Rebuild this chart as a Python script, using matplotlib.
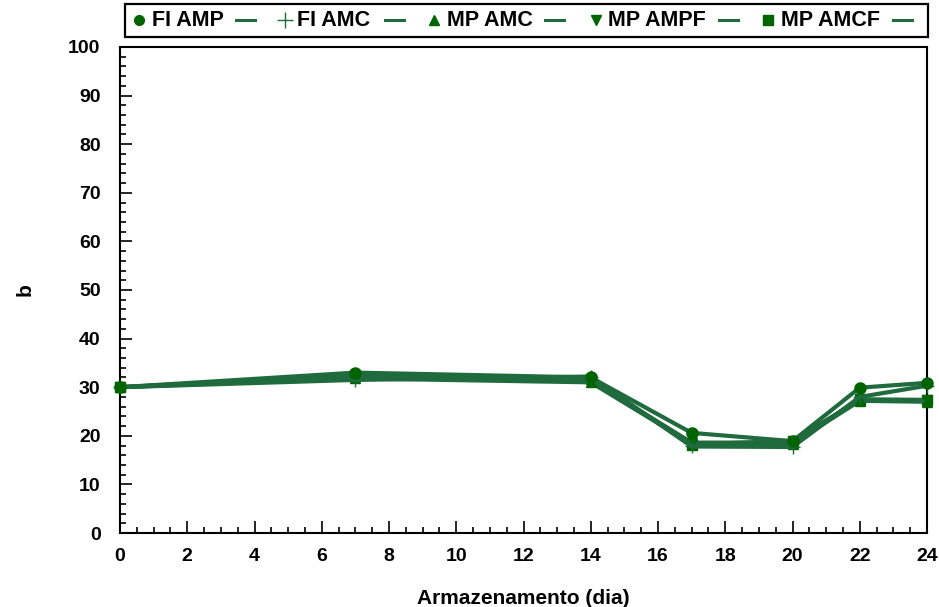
import matplotlib
matplotlib.use("Agg")
import matplotlib.pyplot as plt
from matplotlib.lines import Line2D
from matplotlib.patches import Rectangle
from matplotlib.ticker import MultipleLocator

plt.rcParams['font.family'] = ['Liberation Sans', 'DejaVu Sans']
plt.rcParams['font.weight'] = 'bold'

days = [0, 7, 14, 17, 20, 22, 24]
series_names = ["FI AMP", "FI AMC", "MP AMC", "MP AMPF", "MP AMCF"]
fi_amp = [30, 33.0, 32.0, 20.6, 18.9, 29.9, 30.9]
fi_amc = [30, 31.5, 32.2, 17.8, 17.7, 28.0, 30.3]
mp_amc = [30, 31.8, 31.0, 18.4, 18.4, 27.2, 27.0]
mp_ampf = [30, 32.2, 31.4, 18.6, 18.6, 27.5, 27.4]
mp_amcf = [30, 32.5, 31.6, 18.2, 19.0, 27.4, 27.3]
series_values = [fi_amp, fi_amc, mp_amc, mp_ampf, mp_amcf]
markers = ['o', '+', '^', 'v', 's']
xticks = list(range(0, 25, 2))
yticks = list(range(0, 101, 10))

line_color = '#1f6b3e'
marker_color = '#006400'

fig = plt.figure(figsize=(9.39, 6.07), dpi=100)
ax = fig.add_axes([120/939, 1-533/607, (927-120)/939, (533-47)/607])

order = [4, 3, 2, 1, 0]
for i in order:
    m = markers[i]
    ms = 8 if m == 'o' else (10 if m == '+' else 7)
    ax.plot(days, series_values[i], color=line_color, lw=3.0,
            marker=m, markersize=ms, markerfacecolor=marker_color,
            markeredgecolor=marker_color if m != '+' else line_color,
            markeredgewidth=1.0, zorder=3 + (5 - i), clip_on=False)

ax.set_xlim(0, 24)
ax.set_ylim(0, 100)
ax.set_xticks(xticks)
ax.set_yticks(yticks)
ax.xaxis.set_minor_locator(MultipleLocator(0.5))
ax.yaxis.set_minor_locator(MultipleLocator(2))
ax.tick_params(which='both', direction='in', top=False, right=False, width=1.2)
ax.tick_params(which='major', length=8.5, labelsize=14)
ax.tick_params(which='minor', length=4)
ax.tick_params(axis='y', which='major', pad=14)
ax.tick_params(axis='x', which='major', pad=11)
for lbl in ax.get_xticklabels() + ax.get_yticklabels():
    lbl.set_fontweight('bold')
for sp in ax.spines.values():
    sp.set_linewidth(1.5)

ax.set_xlabel("Armazenamento (dia)", fontsize=15, fontweight='bold', labelpad=17)
ax.set_ylabel("b", fontsize=15, fontweight='bold', labelpad=24)

# custom legend box
W, H = 939, 607
def fx(x):
    return x / W
def fy(y):
    return 1 - y / H

fig.patches.append(Rectangle((fx(125), fy(37)), fx(928) - fx(125), fy(4) - fy(37),
                             transform=fig.transFigure, fill=False,
                             edgecolor='black', linewidth=1.6))
leg_items = [(139, 152, 236), (285, 297, 385), (434, 447, 545), (596, 608, 719), (768, 781, 893)]
ly = 20
for i, (mx, tx, dx) in enumerate(leg_items):
    m = markers[i]
    ms = 7 if m in ('o',) else (11 if m == '+' else 7)
    fig.add_artist(Line2D([fx(mx)], [fy(ly)], marker=m, markersize=ms,
                          color=marker_color if m != '+' else line_color,
                          markeredgewidth=1.0, transform=fig.transFigure))
    fig.text(fx(tx), fy(ly), series_names[i], fontsize=15.5, fontweight='bold',
             va='center', ha='left')
    fig.add_artist(Line2D([fx(dx), fx(dx + 19)], [fy(ly), fy(ly)], color=line_color,
                          lw=2.2, transform=fig.transFigure))

fig.savefig("out.png", dpi=100)
